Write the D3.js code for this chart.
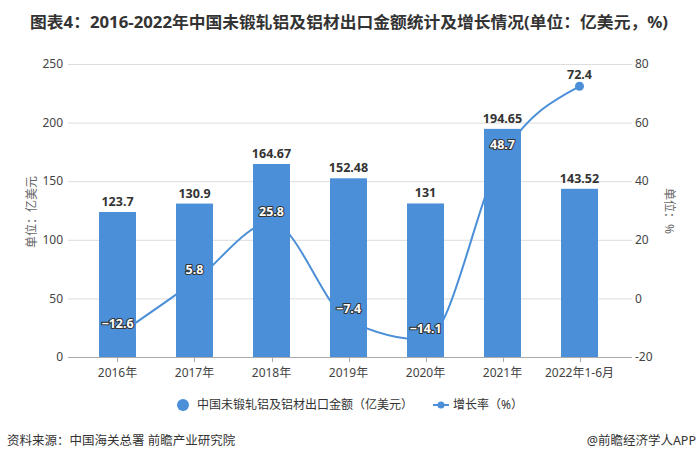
<!DOCTYPE html>
<html><head><meta charset="utf-8">
<script src="https://cdn.jsdelivr.net/npm/d3@7"></script>
<style>
body{margin:0;background:#fff;}
svg{display:block;font-family:"Noto Sans","Noto Sans CJK SC",sans-serif;}
</style></head>
<body>
<svg id="c" width="698" height="461"></svg>
<script>
const categories = ["2016年","2017年","2018年","2019年","2020年","2021年","2022年1-6月"];
const amounts = [123.7,130.9,164.67,152.48,131,194.65,143.52];
const growth = [-12.6,5.8,25.8,-7.4,-14.1,48.7,72.4];
const leftTicks = [0,50,100,150,200,250];
const rightTicks = [-20,0,20,40,60,80];
const amountLabels = ["123.7","130.9","164.67","152.48","131","194.65","143.52"];
const growthLabels = ["\u221212.6","5.8","25.8","\u22127.4","\u221214.1","48.7","72.4"];

(function(){
const svg = d3.select("#c");
const barColor = "#4a8fd8";
const lineColor = "#4a8fd8";
const gridL = 68, gridR = 632, plotTop = 64, plotBottom = 357;

const x = d3.scaleBand().domain(categories).range([79,618]).paddingInner(0.52).paddingOuter(0.26);
const yL = d3.scaleLinear().domain([0,250]).range([plotBottom,plotTop]);
const yR = d3.scaleLinear().domain([-20,80]).range([plotBottom,plotTop]);

// title
svg.append("text").attr("x",30).attr("y",28)
  .attr("font-size",16).attr("font-weight","bold").attr("fill","#333")
  .attr("textLength",638).attr("lengthAdjust","spacingAndGlyphs")
  .text("图表4：2016-2022年中国未锻轧铝及铝材出口金额统计及增长情况(单位：亿美元，%)");

// grid
svg.append("g").selectAll("line").data(leftTicks).join("line")
  .attr("x1",gridL).attr("x2",gridR)
  .attr("y1",d=>yL(d)+0.5).attr("y2",d=>yL(d)+0.5)
  .attr("stroke",d=>d===0?"#aaa":"#ddd").attr("stroke-width",1);

// left tick labels
svg.append("g").selectAll("text").data(leftTicks).join("text")
  .attr("x",63).attr("y",d=>yL(d)).attr("dy","0.35em")
  .attr("text-anchor","end").attr("font-size",12).attr("fill","#444").text(d=>d);
// right tick labels
svg.append("g").selectAll("text").data(rightTicks).join("text")
  .attr("x",635).attr("y",d=>yR(d)).attr("dy","0.35em")
  .attr("text-anchor","start").attr("font-size",12).attr("fill","#444").text(d=>d);

// axis titles
svg.append("text").attr("transform","translate(36,212) rotate(-90)")
  .attr("text-anchor","middle").attr("font-size",12).attr("fill","#666").text("单位：亿美元");
svg.append("text").attr("transform","translate(665,211) rotate(90)")
  .attr("text-anchor","middle").attr("font-size",12).attr("fill","#666").text("单位：%");

// x ticks and labels
const xc = d=>x(d)+x.bandwidth()/2;
svg.append("g").selectAll("line").data(categories).join("line")
  .attr("x1",d=>Math.round(xc(d))+0.5).attr("x2",d=>Math.round(xc(d))+0.5)
  .attr("y1",plotBottom).attr("y2",plotBottom+5).attr("stroke","#aaa");
svg.append("g").selectAll("text").data(categories).join("text")
  .attr("x",xc).attr("y",377).attr("text-anchor","middle")
  .attr("font-size",12).attr("fill","#444").text(d=>d);

// bars
svg.append("g").selectAll("rect").data(amounts).join("rect")
  .attr("x",(d,i)=>x(categories[i])).attr("width",x.bandwidth())
  .attr("y",d=>yL(d)).attr("height",d=>plotBottom-yL(d)).attr("fill",barColor);

// bar labels
svg.append("g").selectAll("text").data(amounts).join("text")
  .attr("x",(d,i)=>xc(categories[i])).attr("y",d=>yL(d)-6)
  .attr("text-anchor","middle").attr("font-size",12.5).attr("font-weight","bold")
  .attr("fill","#333").text((d,i)=>amountLabels[i]);

// line
const line = d3.line().x((d,i)=>xc(categories[i])).y(d=>yR(d)).curve(d3.curveMonotoneX);
svg.append("path").datum(growth).attr("d",line)
  .attr("fill","none").attr("stroke",lineColor).attr("stroke-width",2);
const lastIdx = growth.length-1;
svg.append("circle").attr("cx",xc(categories[lastIdx])).attr("cy",yR(growth[lastIdx])).attr("r",4.5)
  .attr("fill",lineColor);

// line labels
svg.append("g").selectAll("text").data(growth).join("text")
  .attr("x",(d,i)=>xc(categories[i])).attr("y",d=>yR(d)-7)
  .attr("text-anchor","middle").attr("font-size",12.5).attr("font-weight","bold")
  .attr("fill",(d,i)=>i===lastIdx?"#333":"#fff")
  .attr("stroke",(d,i)=>i===lastIdx?"none":"#333")
  .attr("stroke-width",2.2).attr("paint-order","stroke").attr("stroke-linejoin","round")
  .text((d,i)=>growthLabels[i]);

// legend
const lg = svg.append("g");
lg.append("circle").attr("cx",183).attr("cy",405).attr("r",6).attr("fill",barColor);
lg.append("text").attr("x",197).attr("y",405).attr("dy","0.35em").attr("font-size",12)
  .attr("fill","#333").text("中国未锻轧铝及铝材出口金额（亿美元）");
lg.append("line").attr("x1",433).attr("x2",449).attr("y1",405).attr("y2",405)
  .attr("stroke",lineColor).attr("stroke-width",2);
lg.append("circle").attr("cx",441).attr("cy",405).attr("r",3.5).attr("fill",lineColor);
lg.append("text").attr("x",453).attr("y",405).attr("dy","0.35em").attr("font-size",12)
  .attr("fill","#333").text("增长率（%）");

// footer
svg.append("text").attr("x",7).attr("y",445).attr("font-size",12.5).attr("fill","#333")
  .text("资料来源：中国海关总署 前瞻产业研究院");
svg.append("text").attr("x",696).attr("y",445).attr("text-anchor","end").attr("font-size",12.5)
  .attr("fill","#333").text("@前瞻经济学人APP");
})();
</script>
</body></html>
